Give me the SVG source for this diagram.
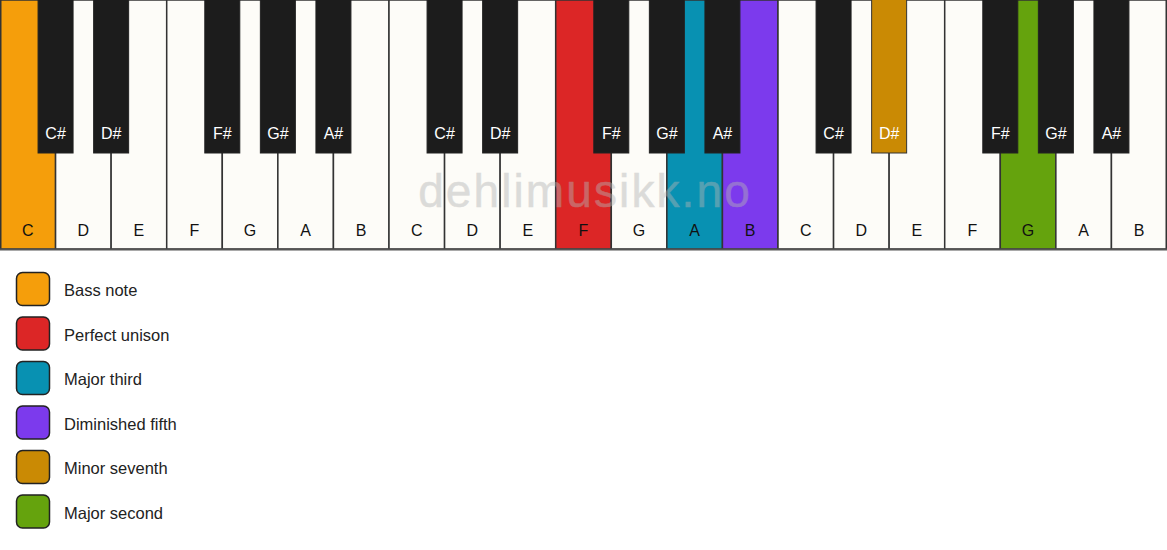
<svg xmlns="http://www.w3.org/2000/svg" width="1167" height="550" viewBox="0 0 1167 550">
<style>
.w{fill:#fdfcf8;stroke:#333;stroke-width:1.5}
.b{fill:#1c1c1c;stroke:#222;stroke-width:1}
.wl{font-family:"Liberation Sans",Arial,sans-serif;font-size:16px;fill:#111;text-anchor:middle}
.bl{font-family:"Liberation Sans",Arial,sans-serif;font-size:16px;fill:#fff;text-anchor:middle}
.lg{stroke:#222;stroke-width:1.5}
.lt{font-family:"Liberation Sans",Arial,sans-serif;font-size:16.5px;fill:#222}
.wm{font-family:"Liberation Sans",Arial,sans-serif;font-size:46px;letter-spacing:2.1px;fill:#b4b4b4;stroke:#b4b4b4;stroke-width:0.5;opacity:0.45;text-anchor:middle}
</style>
<rect width="1167" height="550" fill="#ffffff"/>
<g id="white-keys">
<rect class="w" x="0.75" y="0" width="54.82" height="249" style="fill:#f59e0b"/>
<rect class="w" x="55.57" y="0" width="55.57" height="249"/>
<rect class="w" x="111.14" y="0" width="55.57" height="249"/>
<rect class="w" x="166.71" y="0" width="55.57" height="249"/>
<rect class="w" x="222.29" y="0" width="55.57" height="249"/>
<rect class="w" x="277.86" y="0" width="55.57" height="249"/>
<rect class="w" x="333.43" y="0" width="55.57" height="249"/>
<rect class="w" x="389.00" y="0" width="55.57" height="249"/>
<rect class="w" x="444.57" y="0" width="55.57" height="249"/>
<rect class="w" x="500.14" y="0" width="55.57" height="249"/>
<rect class="w" x="555.71" y="0" width="55.57" height="249" style="fill:#dc2626"/>
<rect class="w" x="611.29" y="0" width="55.57" height="249"/>
<rect class="w" x="666.86" y="0" width="55.57" height="249" style="fill:#0891b2"/>
<rect class="w" x="722.43" y="0" width="55.57" height="249" style="fill:#7c3aed"/>
<rect class="w" x="778.00" y="0" width="55.57" height="249"/>
<rect class="w" x="833.57" y="0" width="55.57" height="249"/>
<rect class="w" x="889.14" y="0" width="55.57" height="249"/>
<rect class="w" x="944.71" y="0" width="55.57" height="249"/>
<rect class="w" x="1000.29" y="0" width="55.57" height="249" style="fill:#65a30d"/>
<rect class="w" x="1055.86" y="0" width="55.57" height="249"/>
<rect class="w" x="1111.43" y="0" width="54.82" height="249"/>
<line x1="0" y1="249.5" x2="1167" y2="249.5" stroke="#555" stroke-width="2"/>
</g>
<g id="white-labels">
<text class="wl" x="27.79" y="236">C</text>
<text class="wl" x="83.36" y="236">D</text>
<text class="wl" x="138.93" y="236">E</text>
<text class="wl" x="194.50" y="236">F</text>
<text class="wl" x="250.07" y="236">G</text>
<text class="wl" x="305.64" y="236">A</text>
<text class="wl" x="361.21" y="236">B</text>
<text class="wl" x="416.79" y="236">C</text>
<text class="wl" x="472.36" y="236">D</text>
<text class="wl" x="527.93" y="236">E</text>
<text class="wl" x="583.50" y="236">F</text>
<text class="wl" x="639.07" y="236">G</text>
<text class="wl" x="694.64" y="236">A</text>
<text class="wl" x="750.21" y="236">B</text>
<text class="wl" x="805.79" y="236">C</text>
<text class="wl" x="861.36" y="236">D</text>
<text class="wl" x="916.93" y="236">E</text>
<text class="wl" x="972.50" y="236">F</text>
<text class="wl" x="1028.07" y="236">G</text>
<text class="wl" x="1083.64" y="236">A</text>
<text class="wl" x="1139.21" y="236">B</text>
</g>
<g id="black-keys">
<rect class="b" x="38.07" y="-1" width="35" height="154"/>
<rect class="b" x="93.64" y="-1" width="35" height="154"/>
<rect class="b" x="204.79" y="-1" width="35" height="154"/>
<rect class="b" x="260.36" y="-1" width="35" height="154"/>
<rect class="b" x="315.93" y="-1" width="35" height="154"/>
<rect class="b" x="427.07" y="-1" width="35" height="154"/>
<rect class="b" x="482.64" y="-1" width="35" height="154"/>
<rect class="b" x="593.79" y="-1" width="35" height="154"/>
<rect class="b" x="649.36" y="-1" width="35" height="154"/>
<rect class="b" x="704.93" y="-1" width="35" height="154"/>
<rect class="b" x="816.07" y="-1" width="35" height="154"/>
<rect class="b" x="871.64" y="-1" width="35" height="154" style="fill:#ca8a04;stroke:#333"/>
<rect class="b" x="982.79" y="-1" width="35" height="154"/>
<rect class="b" x="1038.36" y="-1" width="35" height="154"/>
<rect class="b" x="1093.93" y="-1" width="35" height="154"/>
</g>
<g id="black-labels">
<text class="bl" x="55.57" y="139">C#</text>
<text class="bl" x="111.14" y="139">D#</text>
<text class="bl" x="222.29" y="139">F#</text>
<text class="bl" x="277.86" y="139">G#</text>
<text class="bl" x="333.43" y="139">A#</text>
<text class="bl" x="444.57" y="139">C#</text>
<text class="bl" x="500.14" y="139">D#</text>
<text class="bl" x="611.29" y="139">F#</text>
<text class="bl" x="666.86" y="139">G#</text>
<text class="bl" x="722.43" y="139">A#</text>
<text class="bl" x="833.57" y="139">C#</text>
<text class="bl" x="889.14" y="139">D#</text>
<text class="bl" x="1000.29" y="139">F#</text>
<text class="bl" x="1055.86" y="139">G#</text>
<text class="bl" x="1111.43" y="139">A#</text>
</g>
<g id="watermark">
<text class="wm" x="585" y="207">dehlimusikk.no</text>
</g>
<g id="legend">
<g id="legend-bass"><rect class="lg" x="16.5" y="272.5" width="33" height="33" rx="6" fill="#f59e0b"/><text class="lt" x="64" y="296">Bass note</text></g>
<g id="legend-unison"><rect class="lg" x="16.5" y="317" width="33" height="33" rx="6" fill="#dc2626"/><text class="lt" x="64" y="340.5">Perfect unison</text></g>
<g id="legend-third"><rect class="lg" x="16.5" y="361.5" width="33" height="33" rx="6" fill="#0891b2"/><text class="lt" x="64" y="385">Major third</text></g>
<g id="legend-fifth"><rect class="lg" x="16.5" y="406" width="33" height="33" rx="6" fill="#7c3aed"/><text class="lt" x="64" y="429.5">Diminished fifth</text></g>
<g id="legend-seventh"><rect class="lg" x="16.5" y="450.5" width="33" height="33" rx="6" fill="#ca8a04"/><text class="lt" x="64" y="474">Minor seventh</text></g>
<g id="legend-second"><rect class="lg" x="16.5" y="495" width="33" height="33" rx="6" fill="#65a30d"/><text class="lt" x="64" y="518.5">Major second</text></g>
</g>
</svg>
